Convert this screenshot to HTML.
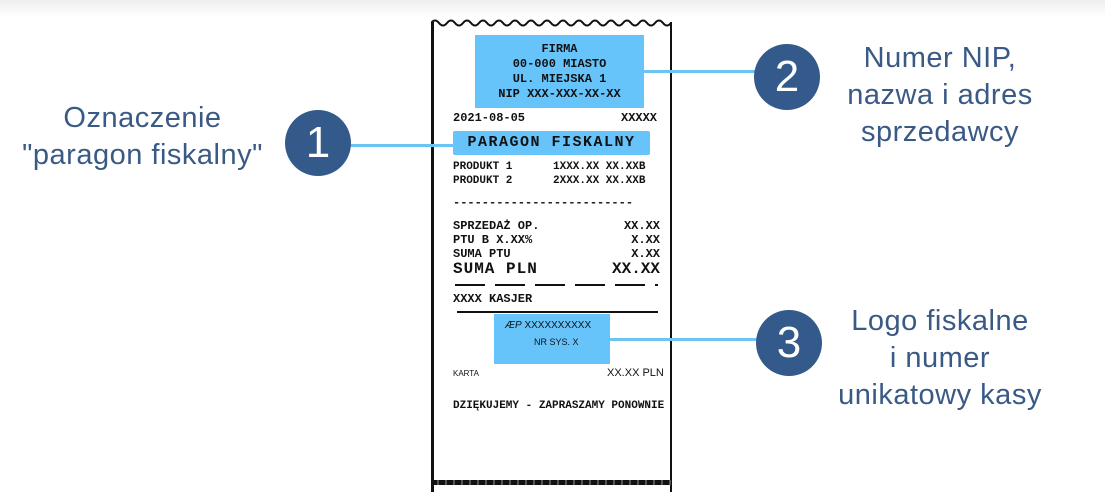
<!DOCTYPE html>
<html><head><meta charset="utf-8"><style>
body{margin:0;width:1105px;height:485px;overflow:hidden;background:#fff;position:relative;font-family:"Liberation Sans",sans-serif}
.a{position:absolute}
.lbl{position:absolute;color:#3a5a86;font-size:29px;text-align:center;line-height:37px;letter-spacing:0.5px}
.c{position:absolute;width:66px;height:66px;border-radius:50%;background:#335a8a;color:#fff;font-size:44px;text-align:center;line-height:66px}
.ln{position:absolute;height:3px;background:#6cc4f2}
.box{position:absolute;background:#66c4fa}
.m{position:absolute;font-family:"Liberation Mono",monospace;color:#111;font-size:11px;white-space:pre;font-weight:bold}
</style></head><body>
<div class="a" style="left:0;top:0;width:1105px;height:18px;background:linear-gradient(#eee,#fff)"></div>
<div class="a" style="left:431px;top:22px;width:236px;height:470px;background:#fff;border-left:3px solid #111;border-right:2px solid #111"></div>
<svg class="a" style="left:431px;top:16px" width="240" height="12"><path d="M0 7 q4 -5 8 0 t8 0 t8 0 t8 0 t8 0 t8 0 t8 0 t8 0 t8 0 t8 0 t8 0 t8 0 t8 0 t8 0 t8 0 t8 0 t8 0 t8 0 t8 0 t8 0 t8 0 t8 0 t8 0 t8 0 t8 0 t8 0 t8 0 t8 0 t8 0 t8 0" stroke="#111" stroke-width="2" fill="none"/></svg>
<div class="a" style="left:431px;top:480px;width:240px;height:5px;background:repeating-linear-gradient(90deg,#111 0 6px,#555 6px 8px)"></div>
<div class="ln" style="left:350px;top:144px;width:104px"></div>
<div class="ln" style="left:643px;top:70px;width:112px"></div>
<div class="ln" style="left:608px;top:338px;width:150px"></div>
<div class="box" style="left:475px;top:35px;width:169px;height:73px"></div>
<div class="m" style="left:475px;top:42px;width:169px;text-align:center;line-height:15px;font-size:12px">FIRMA
00-000 MIASTO
UL. MIEJSKA 1
NIP XXX-XXX-XX-XX</div>
<div class="m" style="left:453px;top:111px;font-size:12px">2021-08-05</div>
<div class="m" style="left:621px;top:111px;font-size:12px">XXXXX</div>
<div class="box" style="left:453px;top:131px;width:197px;height:24px;border-radius:2px"></div>
<div class="m" style="left:453px;top:134px;width:197px;text-align:center;font-size:15px;letter-spacing:1.5px">PARAGON FISKALNY</div>
<div class="m" style="left:453px;top:160px;line-height:14px;font-size:11px">PRODUKT 1
PRODUKT 2</div>
<div class="m" style="left:553px;top:160px;line-height:14px;font-size:11px">1XXX.XX XX.XXB
2XXX.XX XX.XXB</div>
<div class="m" style="left:453px;top:196px;font-size:12px">-------------------------</div>
<div class="m" style="left:453px;top:219px;line-height:14px;font-size:12px">SPRZEDAŻ OP.
PTU B X.XX%
SUMA PTU</div>
<div class="m" style="left:600px;top:219px;line-height:14px;font-size:12px;text-align:right;width:60px">XX.XX
X.XX
X.XX</div>
<div class="m" style="left:453px;top:260px;font-size:16px;letter-spacing:1px">SUMA PLN</div>
<div class="m" style="left:610px;top:260px;font-size:16px;width:50px;text-align:right">XX.XX</div>
<div class="a" style="left:455px;top:284px;width:203px;height:2px;background:repeating-linear-gradient(90deg,#111 0 30px,transparent 30px 40px)"></div>
<div class="m" style="left:453px;top:292px;font-size:12px">XXXX KASJER</div>
<div class="a" style="left:457px;top:311px;width:201px;height:2px;background:#111"></div>
<div class="box" style="left:494px;top:314px;width:116px;height:50px"></div>
<div class="m" style="left:505px;top:320px;font-size:10px;font-family:'Liberation Sans',sans-serif;font-weight:normal"><i>ÆP</i> XXXXXXXXXX</div>
<div class="m" style="left:534px;top:337px;font-size:9px;font-family:'Liberation Sans',sans-serif;font-weight:normal">NR SYS. X</div>
<div class="m" style="left:453px;top:369px;font-size:8px;font-family:'Liberation Sans',sans-serif;font-weight:normal">KARTA</div>
<div class="m" style="left:607px;top:367px;font-size:11px;font-family:'Liberation Sans',sans-serif;font-weight:normal">XX.XX PLN</div>
<div class="m" style="left:453px;top:400px;font-size:11px">DZIĘKUJEMY - ZAPRASZAMY PONOWNIE</div>
<div class="c" style="left:285px;top:110px">1</div>
<div class="c" style="left:754px;top:44px">2</div>
<div class="c" style="left:756px;top:310px">3</div>
<div class="lbl" style="left:0;top:100px;width:285px">Oznaczenie<br>"paragon fiskalny"</div>
<div class="lbl" style="left:820px;top:40px;width:240px">Numer NIP,<br>nazwa i adres<br>sprzedawcy</div>
<div class="lbl" style="left:820px;top:303px;width:240px">Logo fiskalne<br>i numer<br>unikatowy kasy</div>
</body></html>
